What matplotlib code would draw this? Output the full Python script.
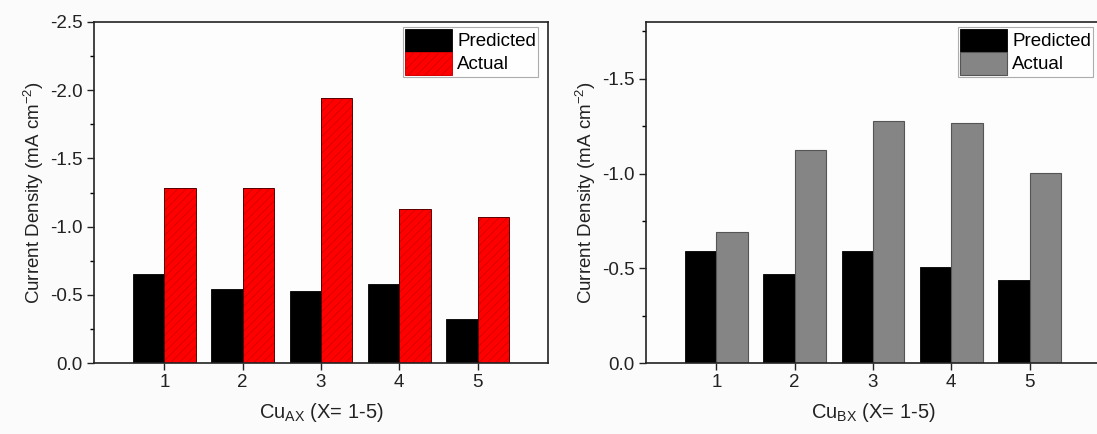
import numpy as np
import matplotlib
matplotlib.use("Agg")
import matplotlib.pyplot as plt
from matplotlib.ticker import MultipleLocator, FormatStrFormatter

plt.rcParams['font.family'] = ['Liberation Sans', 'DejaVu Sans']
plt.rcParams['axes.unicode_minus'] = False
plt.rcParams['hatch.linewidth'] = 0.6

# data (negative current densities)
samples = [1, 2, 3, 4, 5]
pred_a = [-0.65, -0.54, -0.53, -0.58, -0.32]
actual_a = [-1.28, -1.28, -1.94, -1.13, -1.07]
pred_b = [-0.59, -0.47, -0.59, -0.505, -0.44]
actual_b = [-0.69, -1.125, -1.275, -1.265, -1.005]
xlabels = [r'Cu$_{\mathregular{AX}}$ (X= 1-5)', r'Cu$_{\mathregular{BX}}$ (X= 1-5)']
ylabel = r'Current Density (mA cm$^{\mathregular{-2}}$)'

W, H = 1097, 434
fig = plt.figure(figsize=(W / 100, H / 100), dpi=100, facecolor='#fbfbfb')

bottom = (H - 363) / H
height = (363 - 22) / H
ax1 = fig.add_axes([94 / W, bottom, (548 - 94) / W, height])
ax2 = fig.add_axes([646 / W, bottom, (1100 - 646) / W, height])

x = np.array(samples)
bw = 0.4


def style_axis(ax, ymin, major, minor, xlabel):
    ax.set_facecolor('#fdfdfd')
    ax.set_xlim(0.1, 5.9)
    ax.set_ylim(0, ymin)
    ax.set_xticks(samples)
    ax.yaxis.set_major_locator(MultipleLocator(major))
    ax.yaxis.set_minor_locator(MultipleLocator(minor))
    ax.yaxis.set_major_formatter(FormatStrFormatter('%.1f'))
    ax.tick_params(axis='both', which='major', direction='out', length=5,
                   width=1, labelsize=13.5, colors='#222222', pad=3)
    ax.tick_params(axis='y', which='minor', direction='out', length=3, width=1)
    ax.tick_params(top=False, right=False)
    for s in ax.spines.values():
        s.set_linewidth(1.2)
        s.set_color('#222222')
    ax.set_xlabel(xlabel, fontsize=14.5, color='#222222', labelpad=7)
    ax.set_ylabel(ylabel, fontsize=13.5, color='#222222', labelpad=3)


def add_legend(ax, handles, labels, right_px):
    leg = ax.legend(handles, labels, loc='upper right', fontsize=13.5,
                    frameon=True, fancybox=False, edgecolor='#999999',
                    handlelength=2.5, handleheight=1.5, handletextpad=0.3,
                    labelspacing=0.0, borderpad=0.1, borderaxespad=0.0)
    leg.get_frame().set_linewidth(0.8)
    leg.set_bbox_to_anchor((right_px / W, 1 - 27 / H), transform=fig.transFigure)
    return leg


# left panel: black + red hatched
hp1 = ax1.bar(x - bw / 2, pred_a, bw, color='black', edgecolor='black', lw=0.6)
ax1.bar(x + bw / 2, actual_a, bw, color='#ff0000', edgecolor='#d40000', hatch='////', lw=0)
ax1.bar(x + bw / 2, actual_a, bw, fill=False, edgecolor='#5a0000', lw=0.7)
h_red = ax1.bar([0], [0], 0, color='#ff0000', edgecolor='#d40000', hatch='////', lw=0.7)
style_axis(ax1, -2.5, 0.5, 0.25, xlabels[0])
add_legend(ax1, [hp1, h_red], ['Predicted', 'Actual'], 538)

# right panel: black + gray
hp2 = ax2.bar(x - bw / 2, pred_b, bw, color='black', edgecolor='black', lw=0.6)
ha2 = ax2.bar(x + bw / 2, actual_b, bw, color='#858585', edgecolor='#555555', lw=0.8)
style_axis(ax2, -1.8, 0.5, 0.25, xlabels[1])
add_legend(ax2, [hp2, ha2], ['Predicted', 'Actual'], 1093)

fig.savefig('out.png', dpi=100, facecolor=fig.get_facecolor())
